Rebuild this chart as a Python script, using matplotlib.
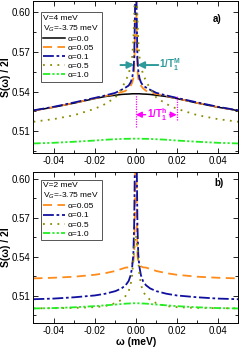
import numpy as np
import matplotlib
matplotlib.use("Agg")
from matplotlib import pyplot as plt
from matplotlib.ticker import MultipleLocator

plt.rcParams['font.family'] = ['Liberation Sans', 'DejaVu Sans']
plt.rcParams['mathtext.fontset'] = 'custom'
plt.rcParams['mathtext.rm'] = 'Liberation Sans'
plt.rcParams['mathtext.bf'] = 'Liberation Sans:bold'

# frequency grid (meV)
omega = [-0.05, -0.04, -0.03, -0.02, -0.015, -0.01, -0.007, -0.005, -0.0035, -0.0025,
         -0.0018, -0.0012, -0.0008, -0.0004, 0.0,
         0.0004, 0.0008, 0.0012, 0.0018, 0.0025, 0.0035, 0.005, 0.007, 0.01,
         0.015, 0.02, 0.03, 0.04, 0.05]

# panel a) V=4 meV
a_alpha00 = [0.5256, 0.5282, 0.5313, 0.5347, 0.5362, 0.5372, 0.5378, 0.5380, 0.5381, 0.5382,
             0.5383, 0.5383, 0.5383, 0.5383, 0.5383,
             0.5383, 0.5383, 0.5383, 0.5383, 0.5382, 0.5381, 0.5380, 0.5378, 0.5372,
             0.5362, 0.5347, 0.5313, 0.5282, 0.5256]
a_alpha005 = [0.5256, 0.5283, 0.5314, 0.5349, 0.5366, 0.5382, 0.5395, 0.5405, 0.5425, 0.5445,
              0.5465, 0.5500, 0.5560, 0.5800, 0.6500,
              0.5800, 0.5560, 0.5500, 0.5465, 0.5445, 0.5425, 0.5405, 0.5395, 0.5382,
              0.5366, 0.5349, 0.5314, 0.5283, 0.5256]
a_alpha01 = [0.5258, 0.5285, 0.5318, 0.5352, 0.5370, 0.5390, 0.5413, 0.5430, 0.5445, 0.5470,
             0.5500, 0.5560, 0.5650, 0.6000, 0.6500,
             0.6000, 0.5650, 0.5560, 0.5500, 0.5470, 0.5445, 0.5430, 0.5413, 0.5390,
             0.5370, 0.5352, 0.5318, 0.5285, 0.5258]
a_alpha05 = [0.5172, 0.5192, 0.5222, 0.5270, 0.5305, 0.5355, 0.5420, 0.5480, 0.5530, 0.5600,
             0.5660, 0.5780, 0.5950, 0.6200, 0.6500,
             0.6200, 0.5950, 0.5780, 0.5660, 0.5600, 0.5530, 0.5480, 0.5420, 0.5355,
             0.5305, 0.5270, 0.5222, 0.5192, 0.5172]
a_alpha10 = [0.5008, 0.5013, 0.5021, 0.5030, 0.5036, 0.5040, 0.5042, 0.5043, 0.5043, 0.5044,
             0.5044, 0.5044, 0.5044, 0.5044, 0.5044,
             0.5044, 0.5044, 0.5044, 0.5044, 0.5044, 0.5043, 0.5043, 0.5042, 0.5040,
             0.5036, 0.5030, 0.5021, 0.5013, 0.5008]

# panel b) V=2 meV
b_alpha005 = [0.5235, 0.5240, 0.5248, 0.5263, 0.5275, 0.5292, 0.5308, 0.5318, 0.5320, 0.5328,
              0.5350, 0.5370, 0.5410, 0.5800, 0.7000,
              0.5800, 0.5410, 0.5370, 0.5350, 0.5328, 0.5320, 0.5318, 0.5308, 0.5292,
              0.5275, 0.5263, 0.5248, 0.5240, 0.5235]
b_alpha01 = [0.5075, 0.5080, 0.5090, 0.5104, 0.5117, 0.5137, 0.5158, 0.5182, 0.5215, 0.5260,
             0.5320, 0.5420, 0.5650, 0.6200, 0.7000,
             0.6200, 0.5650, 0.5420, 0.5320, 0.5260, 0.5215, 0.5182, 0.5158, 0.5137,
             0.5117, 0.5104, 0.5090, 0.5080, 0.5075]
b_alpha05 = [0.5005, 0.5006, 0.5008, 0.5014, 0.5022, 0.5045, 0.5070, 0.5100, 0.5135, 0.5190,
             0.5260, 0.5370, 0.5460, 0.5530, 0.5570,
             0.5530, 0.5460, 0.5370, 0.5260, 0.5190, 0.5135, 0.5100, 0.5070, 0.5045,
             0.5022, 0.5014, 0.5008, 0.5006, 0.5005]
b_alpha10 = [0.5004, 0.5007, 0.5013, 0.5022, 0.5028, 0.5034, 0.5038, 0.5041, 0.5042, 0.5043,
             0.5043, 0.5044, 0.5044, 0.5044, 0.5044,
             0.5044, 0.5044, 0.5044, 0.5043, 0.5043, 0.5042, 0.5041, 0.5038, 0.5034,
             0.5028, 0.5022, 0.5013, 0.5007, 0.5004]

ORANGE = "#ff8c1a"
BLUE = "#1010a0"
OLIVE = "#8c8c00"
GREEN = "#22ee22"
TEAL = "#2e9a9a"
MAGENTA = "#ff00ff"

styles = {
    "0.0": dict(color="black", ls="-", lw=1.1),
    "0.05": dict(color=ORANGE, ls=(0, (5, 3)), lw=1.3),
    "0.1": dict(color=BLUE, ls=(0, (6, 1.5, 1.5, 1.5)), lw=1.3),
    "0.5": dict(color=OLIVE, ls=(0, (1, 3)), lw=1.3),
    "1.0": dict(color=GREEN, ls=(0, (4, 1.2, 1.2, 1.2, 1.2, 1.2)), lw=1.3),
}

fig = plt.figure(figsize=(2.41, 3.48), dpi=100)
ax_a = fig.add_axes([0.139, 0.560, 0.849, 0.437])
ax_b = fig.add_axes([0.139, 0.071, 0.849, 0.436])


def style_axes(ax, ylim):
    ax.set_xlim(-0.05, 0.05)
    ax.set_ylim(*ylim)
    ax.xaxis.set_major_locator(MultipleLocator(0.02))
    ax.xaxis.set_minor_locator(MultipleLocator(0.01))
    ax.yaxis.set_major_locator(MultipleLocator(0.03))
    ax.yaxis.set_minor_locator(MultipleLocator(0.015))
    ax.tick_params(which="both", direction="in", top=True, right=True, labelsize=7, pad=2)
    ax.tick_params(which="major", length=3.5, width=0.6)
    ax.tick_params(which="minor", length=2, width=0.6)
    ax.xaxis.set_major_formatter(plt.FuncFormatter(lambda v, p: f"{v:.2f}"))
    ax.yaxis.set_major_formatter(plt.FuncFormatter(lambda v, p: f"{v:.2f}"))
    for s in ax.spines.values():
        s.set_linewidth(0.7)
    ax.set_ylabel("S(ω) / 2I", fontsize=7.5, fontweight="bold")
    ax.yaxis.set_label_coords(-0.112, 0.5)


# ---- panel a
for key, vals in [("0.0", a_alpha00), ("0.05", a_alpha005), ("0.1", a_alpha01),
                  ("0.5", a_alpha05), ("1.0", a_alpha10)]:
    ax_a.plot(omega, vals, label=f"α={key}", **styles[key])
style_axes(ax_a, (0.4935, 0.6083))
leg = ax_a.legend(loc="upper left", bbox_to_anchor=(0.035, 0.925), fontsize=6,
                  title="V=4 meV\nV$_G$=-3.75 meV", title_fontsize=6, alignment="left",
                  frameon=True, fancybox=False, edgecolor="#555555", framealpha=1,
                  handlelength=2.6, handletextpad=0.3, labelspacing=0.15,
                  borderpad=0.3, borderaxespad=0)
leg.get_frame().set_linewidth(0.7)
ax_a.text(0.875, 0.865, "a)", transform=ax_a.transAxes, fontsize=7, fontweight="bold")

# 1/T1^M teal arrows, pointing in toward the narrow peak
ax_a.annotate("", xy=(-0.0008, 0.560), xytext=(-0.0075, 0.560),
              arrowprops=dict(arrowstyle="-|>,head_length=0.5,head_width=0.25", color=TEAL,
                              lw=1.4, mutation_scale=8, shrinkA=0, shrinkB=0))
ax_a.annotate("", xy=(0.0008, 0.560), xytext=(0.0110, 0.560),
              arrowprops=dict(arrowstyle="-|>,head_length=0.5,head_width=0.25", color=TEAL,
                              lw=1.4, mutation_scale=8, shrinkA=0, shrinkB=0))
ax_a.text(0.0115, 0.560, r"1/T$_\mathbf{1}^\mathbf{M}$", color=TEAL, fontsize=7,
          fontweight="bold", va="center", ha="left")

# 1/T1^h magenta markers
ax_a.plot([0, 0], [0.5135, 0.5385], color=MAGENTA, ls=(0, (1, 1)), lw=0.9)
ax_a.plot([0.02, 0.02], [0.5187, 0.5375], color=MAGENTA, ls=(0, (1, 1)), lw=0.9)
ax_a.annotate("", xy=(0.0, 0.5225), xytext=(0.0048, 0.5225),
              arrowprops=dict(arrowstyle="-|>,head_length=0.5,head_width=0.25", color=MAGENTA,
                              lw=1.0, mutation_scale=7, shrinkA=0, shrinkB=0))
ax_a.annotate("", xy=(0.02, 0.5225), xytext=(0.0165, 0.5225),
              arrowprops=dict(arrowstyle="-|>,head_length=0.5,head_width=0.25", color=MAGENTA,
                              lw=1.0, mutation_scale=7, shrinkA=0, shrinkB=0))
ax_a.text(0.0105, 0.5225, r"1/T$_\mathbf{1}^\mathbf{h}$", color=MAGENTA, fontsize=7,
          fontweight="bold", va="center", ha="center")

# ---- panel b
for key, vals in [("0.05", b_alpha005), ("0.1", b_alpha01), ("0.5", b_alpha05),
                  ("1.0", b_alpha10)]:
    ax_b.plot(omega, vals, label=f"α={key}", **styles[key])
style_axes(ax_b, (0.489, 0.6056))
leg = ax_b.legend(loc="upper left", bbox_to_anchor=(0.035, 0.945), fontsize=6,
                  title="V=2 meV\nV$_G$=-3.75 meV", title_fontsize=6, alignment="left",
                  frameon=True, fancybox=False, edgecolor="#555555", framealpha=1,
                  handlelength=2.6, handletextpad=0.3, labelspacing=0.15,
                  borderpad=0.3, borderaxespad=0)
leg.get_frame().set_linewidth(0.7)
ax_b.text(0.885, 0.905, "b)", transform=ax_b.transAxes, fontsize=7, fontweight="bold")
ax_b.set_xlabel("ω (meV)", fontsize=7.5, fontweight="bold", labelpad=1)

fig.savefig("out.png", dpi=100)
